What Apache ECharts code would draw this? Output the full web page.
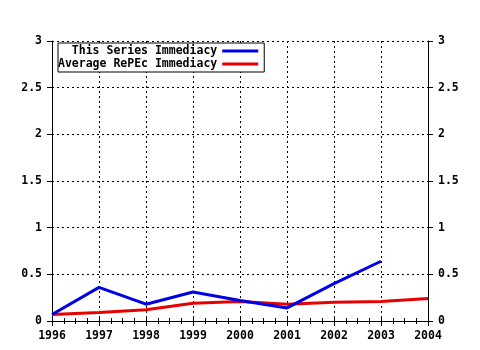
<!DOCTYPE html>
<html>
<head>
<meta charset="utf-8">
<script src="https://cdn.jsdelivr.net/npm/echarts@6/dist/echarts.min.js"></script>
<style>
  html, body { margin: 0; padding: 0; background: #fff; }
  #chart { width: 480px; height: 350px; }
</style>
</head>
<body>
<div id="chart"></div>
<script>
var seriesYears = [1996, 1997, 1998, 1999, 2000, 2001, 2002, 2003];
var seriesValues = [0.07, 0.36, 0.18, 0.31, 0.22, 0.14, 0.40, 0.64];
var repecYears = [1996, 1997, 1998, 1999, 2000, 2001, 2002, 2003, 2004];
var repecValues = [0.07, 0.09, 0.12, 0.19, 0.21, 0.18, 0.20, 0.21, 0.24];
var names = ['This Series Immediacy', 'Average RePEc Immediacy'];

var font = 'DejaVu Sans Mono';
function pairs(xs, ys) {
  return xs.map(function(x, i) { return [x, ys[i]]; });
}
function pad(s) {
  while (s.length < 23) s = ' ' + s;
  return s;
}

var chart = echarts.init(document.getElementById('chart'), null, { renderer: 'canvas' });

var xBase = {
  type: 'value', min: 1996, max: 2004, interval: 1,
  axisLine: { lineStyle: { color: '#000', width: 1 } },
  axisTick: { show: true, inside: false, length: 5, lineStyle: { color: '#000' } },
  minorTick: { show: true, splitNumber: 4, length: 3, lineStyle: { color: '#000' } },
  splitLine: { show: false }
};
var yBase = {
  type: 'value', min: 0, max: 3, interval: 0.5,
  axisLine: { show: true, lineStyle: { color: '#000', width: 1 } },
  axisTick: { show: true, length: 5, lineStyle: { color: '#000' } },
  splitLine: { show: false }
};

chart.setOption({
  backgroundColor: '#fff',
  animation: false,
  grid: { left: 52, right: 52, top: 41, bottom: 29 },
  legend: {
    data: names,
    orient: 'vertical',
    left: 58, top: 43,
    align: 'right',
    itemGap: 1,
    itemWidth: 36,
    itemHeight: 3,
    icon: 'rect',
    padding: [2, 6, 2, 0],
    borderColor: '#000', borderWidth: 1,
    backgroundColor: '#fff',
    formatter: function(n) { return pad(n); },
    textStyle: { fontFamily: font, fontWeight: 'bold', fontSize: 11.5, color: '#000' }
  },
  xAxis: [
    Object.assign({}, xBase, {
      position: 'bottom',
      axisLabel: {
        color: '#000', fontFamily: font, fontWeight: 'bold', fontSize: 11.5, margin: 9,
        formatter: function(v) { return String(v); }
      },
      splitLine: { show: true, lineStyle: { color: '#000', type: [2, 3], width: 1 } }
    }),
    Object.assign({}, xBase, { position: 'top', axisLabel: { show: false } })
  ],
  yAxis: [
    Object.assign({}, yBase, {
      position: 'left',
      axisLabel: { color: '#000', fontFamily: font, fontWeight: 'bold', fontSize: 11.5, margin: 10 },
      splitLine: { show: true, lineStyle: { color: '#000', type: [2, 3], width: 1 } }
    }),
    Object.assign({}, yBase, {
      position: 'right',
      axisLabel: { color: '#000', fontFamily: font, fontWeight: 'bold', fontSize: 11.5, margin: 10 }
    })
  ],
  series: [
    {
      name: names[0], type: 'line', data: pairs(seriesYears, seriesValues),
      symbol: 'none', z: 3,
      lineStyle: { color: '#0000e6', width: 3 }, itemStyle: { color: '#0000e6' }
    },
    {
      name: names[1], type: 'line', data: pairs(repecYears, repecValues),
      symbol: 'none', z: 2,
      lineStyle: { color: '#e60000', width: 3 }, itemStyle: { color: '#e60000' }
    }
  ]
});
</script>
</body>
</html>
